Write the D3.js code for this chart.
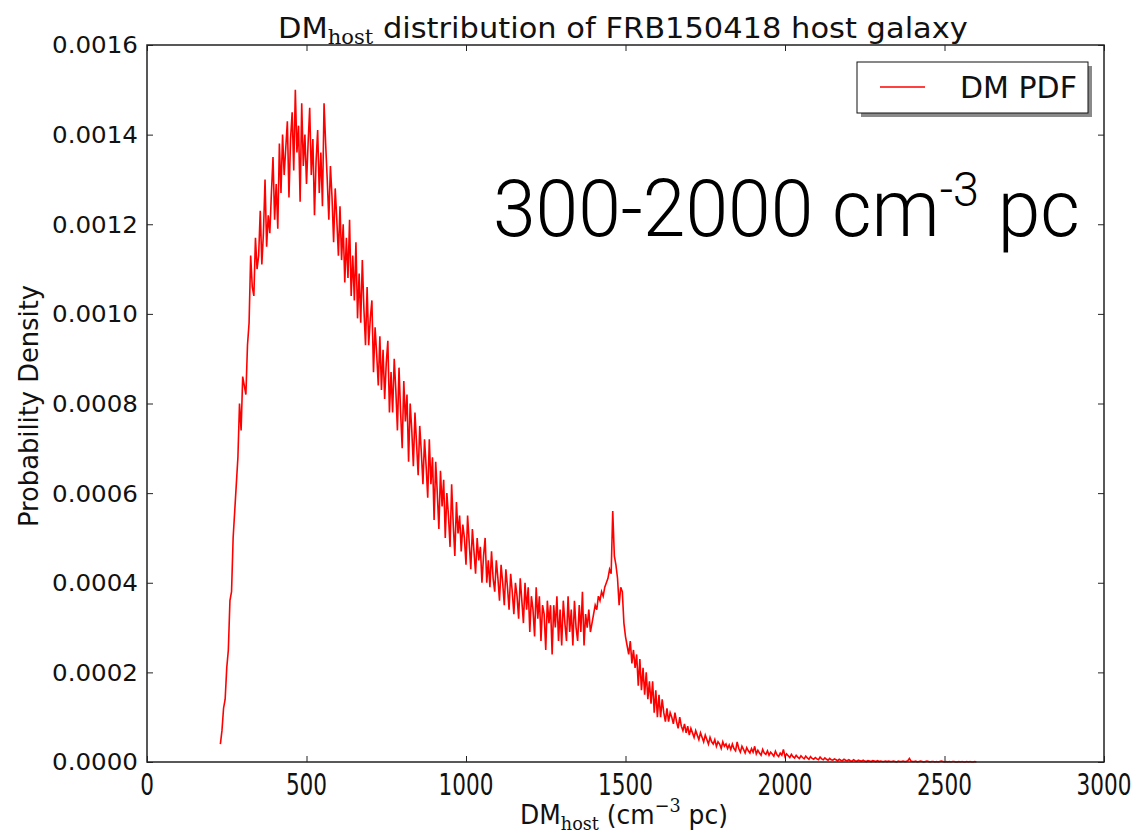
<!DOCTYPE html>
<html><head><meta charset="utf-8">
<script src="https://cdn.jsdelivr.net/npm/d3@7"></script>
<style>body{margin:0;background:#fff}</style>
</head><body>
<svg id="chart" width="1138" height="834"></svg>
<script>
// ---- data ----
const binStart = 230;   // DM of first bin (cm^-3 pc)
const binWidth = 5;     // bin spacing
const density = [
 0.00004,0.00007,0.00012,0.00014,0.00021,0.00025,0.00036,0.00038,0.00050,0.00056,
 0.00062,0.00068,0.00080,0.00074,0.00086,0.00084,0.00082,0.00093,0.00098,0.00113,
 0.00106,0.00104,0.00117,0.00110,0.00113,0.00123,0.00111,0.00118,0.00130,0.00115,
 0.00122,0.00118,0.00127,0.00135,0.00121,0.00129,0.00119,0.00138,0.00127,0.00140,
 0.00131,0.00137,0.00143,0.00126,0.00139,0.00145,0.00132,0.00150,0.00136,0.00142,
 0.00125,0.00147,0.00133,0.00140,0.00129,0.00138,0.00146,0.00131,0.00139,0.00122,
 0.00134,0.00141,0.00127,0.00136,0.00124,0.00147,0.00138,0.00130,0.00121,0.00133,
 0.00126,0.00116,0.00128,0.00121,0.00113,0.00124,0.00112,0.00120,0.00107,0.00117,
 0.00108,0.00121,0.00104,0.00113,0.00103,0.00116,0.00099,0.00109,0.00098,0.00112,
 0.00101,0.00093,0.00106,0.00093,0.00099,0.00103,0.00087,0.00097,0.00091,0.00084,
 0.00095,0.00083,0.00092,0.00081,0.00089,0.00094,0.00078,0.00087,0.00078,0.00090,
 0.00083,0.00074,0.00088,0.00078,0.00070,0.00085,0.00076,0.00082,0.00067,0.00080,
 0.00074,0.00066,0.00078,0.00071,0.00064,0.00075,0.00069,0.00062,0.00072,0.00066,
 0.00059,0.00072,0.00062,0.00068,0.00054,0.00067,0.00060,0.00052,0.00065,0.00057,
 0.00063,0.00050,0.00060,0.00055,0.00048,0.00062,0.00053,0.00046,0.00058,0.00051,
 0.00055,0.00047,0.00053,0.00050,0.00044,0.00055,0.00049,0.00043,0.00052,0.00047,
 0.00042,0.00050,0.00045,0.00048,0.00040,0.00046,0.00050,0.00040,0.00045,0.00039,
 0.00047,0.00041,0.00038,0.00045,0.00041,0.00036,0.00044,0.00040,0.00035,0.00043,
 0.00039,0.00034,0.00042,0.00038,0.00033,0.00040,0.00037,0.00032,0.00041,0.00036,
 0.00031,0.00040,0.00034,0.00039,0.00029,0.00037,0.00034,0.00028,0.00039,0.00032,
 0.00037,0.00027,0.00035,0.00033,0.00025,0.00036,0.00031,0.00035,0.00024,0.00035,
 0.00030,0.00037,0.00027,0.00034,0.00026,0.00036,0.00031,0.00027,0.00037,0.00029,
 0.00034,0.00026,0.00036,0.00030,0.00027,0.00035,0.00029,0.00038,0.00026,0.00033,
 0.00030,0.00034,0.00029,0.00031,0.00033,0.00035,0.00034,0.00037,0.00036,0.00038,
 0.00037,0.00039,0.00040,0.00041,0.00043,0.00042,0.00056,0.00046,0.00044,0.00041,
 0.00035,0.00039,0.00038,0.00031,0.00028,0.00026,0.00024,0.00027,0.00022,0.00025,
 0.00021,0.00024,0.00017,0.00023,0.00016,0.00021,0.00015,0.00020,0.00014,0.00018,
 0.00013,0.00018,0.00011,0.00016,0.00010,0.00015,0.00010,0.00014,0.00011,0.00009,
 0.00012,0.00009,0.00011,0.00010,0.000085,0.00011,0.00009,0.000075,0.00010,0.00008,
 0.00007,0.000085,0.000065,0.00008,0.00006,0.000075,0.000065,0.000055,0.00007,0.00006,
 0.00005,0.000065,0.000055,0.000045,0.00006,0.00005,0.00004,0.000055,0.000045,0.00004,
 0.00005,0.000035,0.000045,0.00004,0.00003,0.000045,0.000035,0.00004,0.00003,0.000038,
 0.000028,0.00004,0.00003,0.000025,0.000045,0.00003,0.000022,0.000035,0.000028,0.00002,
 0.000032,0.000025,0.00002,0.00003,0.000022,0.000035,0.000018,0.000026,0.00002,0.000015,
 0.000028,0.00002,0.000017,0.000025,0.000015,0.000022,0.000018,0.000013,0.000024,0.000016,
 0.000012,0.00002,0.000015,0.000028,0.000012,0.000018,0.000014,0.00001,0.000017,0.000012,
 0.000009,0.000015,0.000011,0.000008,0.000014,0.00001,0.000007,0.000013,0.000009,0.000006,
 0.000012,0.000008,0.000006,0.00001,0.000007,0.000005,0.000011,0.000007,0.000005,0.000009,
 0.000006,0.000004,0.000008,0.000005,0.000004,0.000007,0.000005,0.000003,0.000006,0.000004,
 0.000003,0.000006,0.000004,0.000003,0.000005,0.000003,0.000002,0.000005,0.000003,0.000002,
 0.000004,0.000003,0.000002,0.000004,0.000002,0.000001,0.000003,0.000002,0.000001,0.000003,
 0.000002,0.000001,0.000003,0.000001,0.000002,0.000001,0.000001,0.000002,0.000001,0.000002,
 0.000001,0.000001,0.000002,0.000001,0.0,0.000002,0.000001,0.000001,0.000002,0.000001,
 0.000001,0.000003,0.000008,0.000002,0.000001,0.000001,0.000002,0.0,0.000001,0.000002,
 0.000001,0.0,0.000001,0.000002,0.000001,0.0,0.000001,0.000001,0.0,0.000001,
 0.0,0.000001,0.000002,0.000001,0.0,0.000001,0.0,0.000001,0.0,0.000001,
 0.000001,0.0,0.0,0.000001,0.0,0.000001,0.0,0.0,0.000001,0.0,
 0.000001,0.0,0.0,0.000001,0.0
];
const xTicks = [0, 500, 1000, 1500, 2000, 2500, 3000];
const yTicks = [0, 0.0002, 0.0004, 0.0006, 0.0008, 0.0010, 0.0012, 0.0014, 0.0016];
const xDomain = [0, 3000];
const yDomain = [0, 0.0016];
const seriesName = "DM PDF";
const annotationMain = "300-2000 cm";
const annotationSup = "-3";
const annotationTail = " pc";

// ---- layout ----
const L = 147, R = 1104, T = 45, B = 762;
const svg = d3.select("#chart");
const x = d3.scaleLinear().domain(xDomain).range([L, R]);
const y = d3.scaleLinear().domain(yDomain).range([B, T]);
const FONT = "'DejaVu Sans', sans-serif";
const SERIF = "'DejaVu Serif', 'Liberation Serif', serif";

function scaleToWidth(sel, left, width) {
  const bb = sel.node().getBBox();
  const s = width / bb.width;
  sel.attr("transform", `translate(${left},0) scale(${s},1) translate(${-bb.x},0)`);
}

// curve
const pts = density.map((v, i) => [binStart + i * binWidth, v]);
const line = d3.line().x(d => x(d[0])).y(d => y(d[1]));
svg.append("path").datum(pts).attr("d", line)
  .attr("fill", "none").attr("stroke", "#ff0000").attr("stroke-width", 1.6)
  .attr("stroke-linejoin", "miter");

// frame
svg.append("rect").attr("x", L).attr("y", T).attr("width", R - L).attr("height", B - T)
  .attr("fill", "none").attr("stroke", "#222").attr("stroke-width", 1.5);

// ticks (inside, all four sides) via d3 axes
const tk = 6;
const axB = svg.append("g").attr("transform", `translate(0,${B})`)
  .call(d3.axisTop(x).tickValues(xTicks).tickSize(tk).tickFormat(""));
const axT = svg.append("g").attr("transform", `translate(0,${T})`)
  .call(d3.axisBottom(x).tickValues(xTicks).tickSize(tk).tickFormat(""));
const axL = svg.append("g").attr("transform", `translate(${L},0)`)
  .call(d3.axisRight(y).tickValues(yTicks).tickSize(tk).tickFormat(""));
const axR = svg.append("g").attr("transform", `translate(${R},0)`)
  .call(d3.axisLeft(y).tickValues(yTicks).tickSize(tk).tickFormat(""));
[axB, axT, axL, axR].forEach(a => {
  a.select(".domain").remove();
  a.selectAll("line").attr("stroke", "#222").attr("stroke-width", 1);
});

// x tick labels
xTicks.forEach(v => {
  const cx = x(v);
  svg.append("text").attr("x", cx).attr("y", 795)
    .attr("text-anchor", "middle").attr("font-family", FONT).attr("font-size", 30)
    .attr("fill", "#111").text(String(v))
    .attr("transform", `translate(${cx},0) scale(0.72,1) translate(${-cx},0)`);
});

// y tick labels
yTicks.forEach(v => {
  const t = svg.append("text").attr("x", 0).attr("y", y(v) + 8.5)
    .attr("font-family", FONT).attr("font-size", 23)
    .attr("fill", "#111").text(v.toFixed(4));
  scaleToWidth(t, 52, 86);
});

// title
const title = svg.append("text").attr("x", 0).attr("y", 38)
  .attr("font-family", FONT).attr("font-size", 29).attr("fill", "#111");
title.append("tspan").text("DM");
title.append("tspan").attr("font-family", SERIF).attr("font-size", 20).attr("dy", 6).text("host");
title.append("tspan").attr("dy", -6).text(" distribution of FRB150418 host galaxy");
scaleToWidth(title, 278, 690);

// x label
const xl = svg.append("text").attr("x", 0).attr("y", 824)
  .attr("font-family", FONT).attr("font-size", 27).attr("fill", "#111");
xl.append("tspan").text("DM");
xl.append("tspan").attr("font-family", SERIF).attr("font-size", 19).attr("dy", 6).text("host");
xl.append("tspan").attr("dy", -6).text(" (cm");
xl.append("tspan").attr("font-family", SERIF).attr("font-size", 19).attr("dy", -12).text("\u22123");
xl.append("tspan").attr("dy", 12).text(" pc)");
scaleToWidth(xl, 520, 208);

// y label
const yg = svg.append("g").attr("transform", "translate(38,406) rotate(-90)");
const yl = yg.append("text").attr("x", 0).attr("y", 0).attr("text-anchor", "middle")
  .attr("font-family", FONT).attr("font-size", 26).attr("fill", "#111").text("Probability Density");
{
  const bb = yl.node().getBBox();
  yl.attr("transform", `scale(${242 / bb.width},1)`);
}

// legend
svg.append("rect").attr("x", 861).attr("y", 66).attr("width", 231).attr("height", 51)
  .attr("fill", "#8a8a8a");
svg.append("rect").attr("x", 857).attr("y", 62).attr("width", 231).attr("height", 51)
  .attr("fill", "#fff").attr("stroke", "#111").attr("stroke-width", 1);
svg.append("line").attr("x1", 880).attr("x2", 925).attr("y1", 87).attr("y2", 87)
  .attr("stroke", "#ff0000").attr("stroke-width", 1.5);
svg.append("text").attr("x", 960).attr("y", 98).attr("font-family", FONT)
  .attr("font-size", 30).attr("fill", "#111").text(seriesName);

// annotation
const ann = svg.append("text").attr("x", 0).attr("y", 236)
  .attr("font-family", "Roboto, 'Liberation Sans', sans-serif").attr("font-weight", 300)
  .attr("font-size", 79).attr("fill", "#000");
ann.append("tspan").text(annotationMain);
ann.append("tspan").attr("font-size", 48).attr("dy", -30).text(annotationSup);
ann.append("tspan").attr("dy", 30).text(annotationTail);
scaleToWidth(ann, 493, 587);
</script>
</body></html>
